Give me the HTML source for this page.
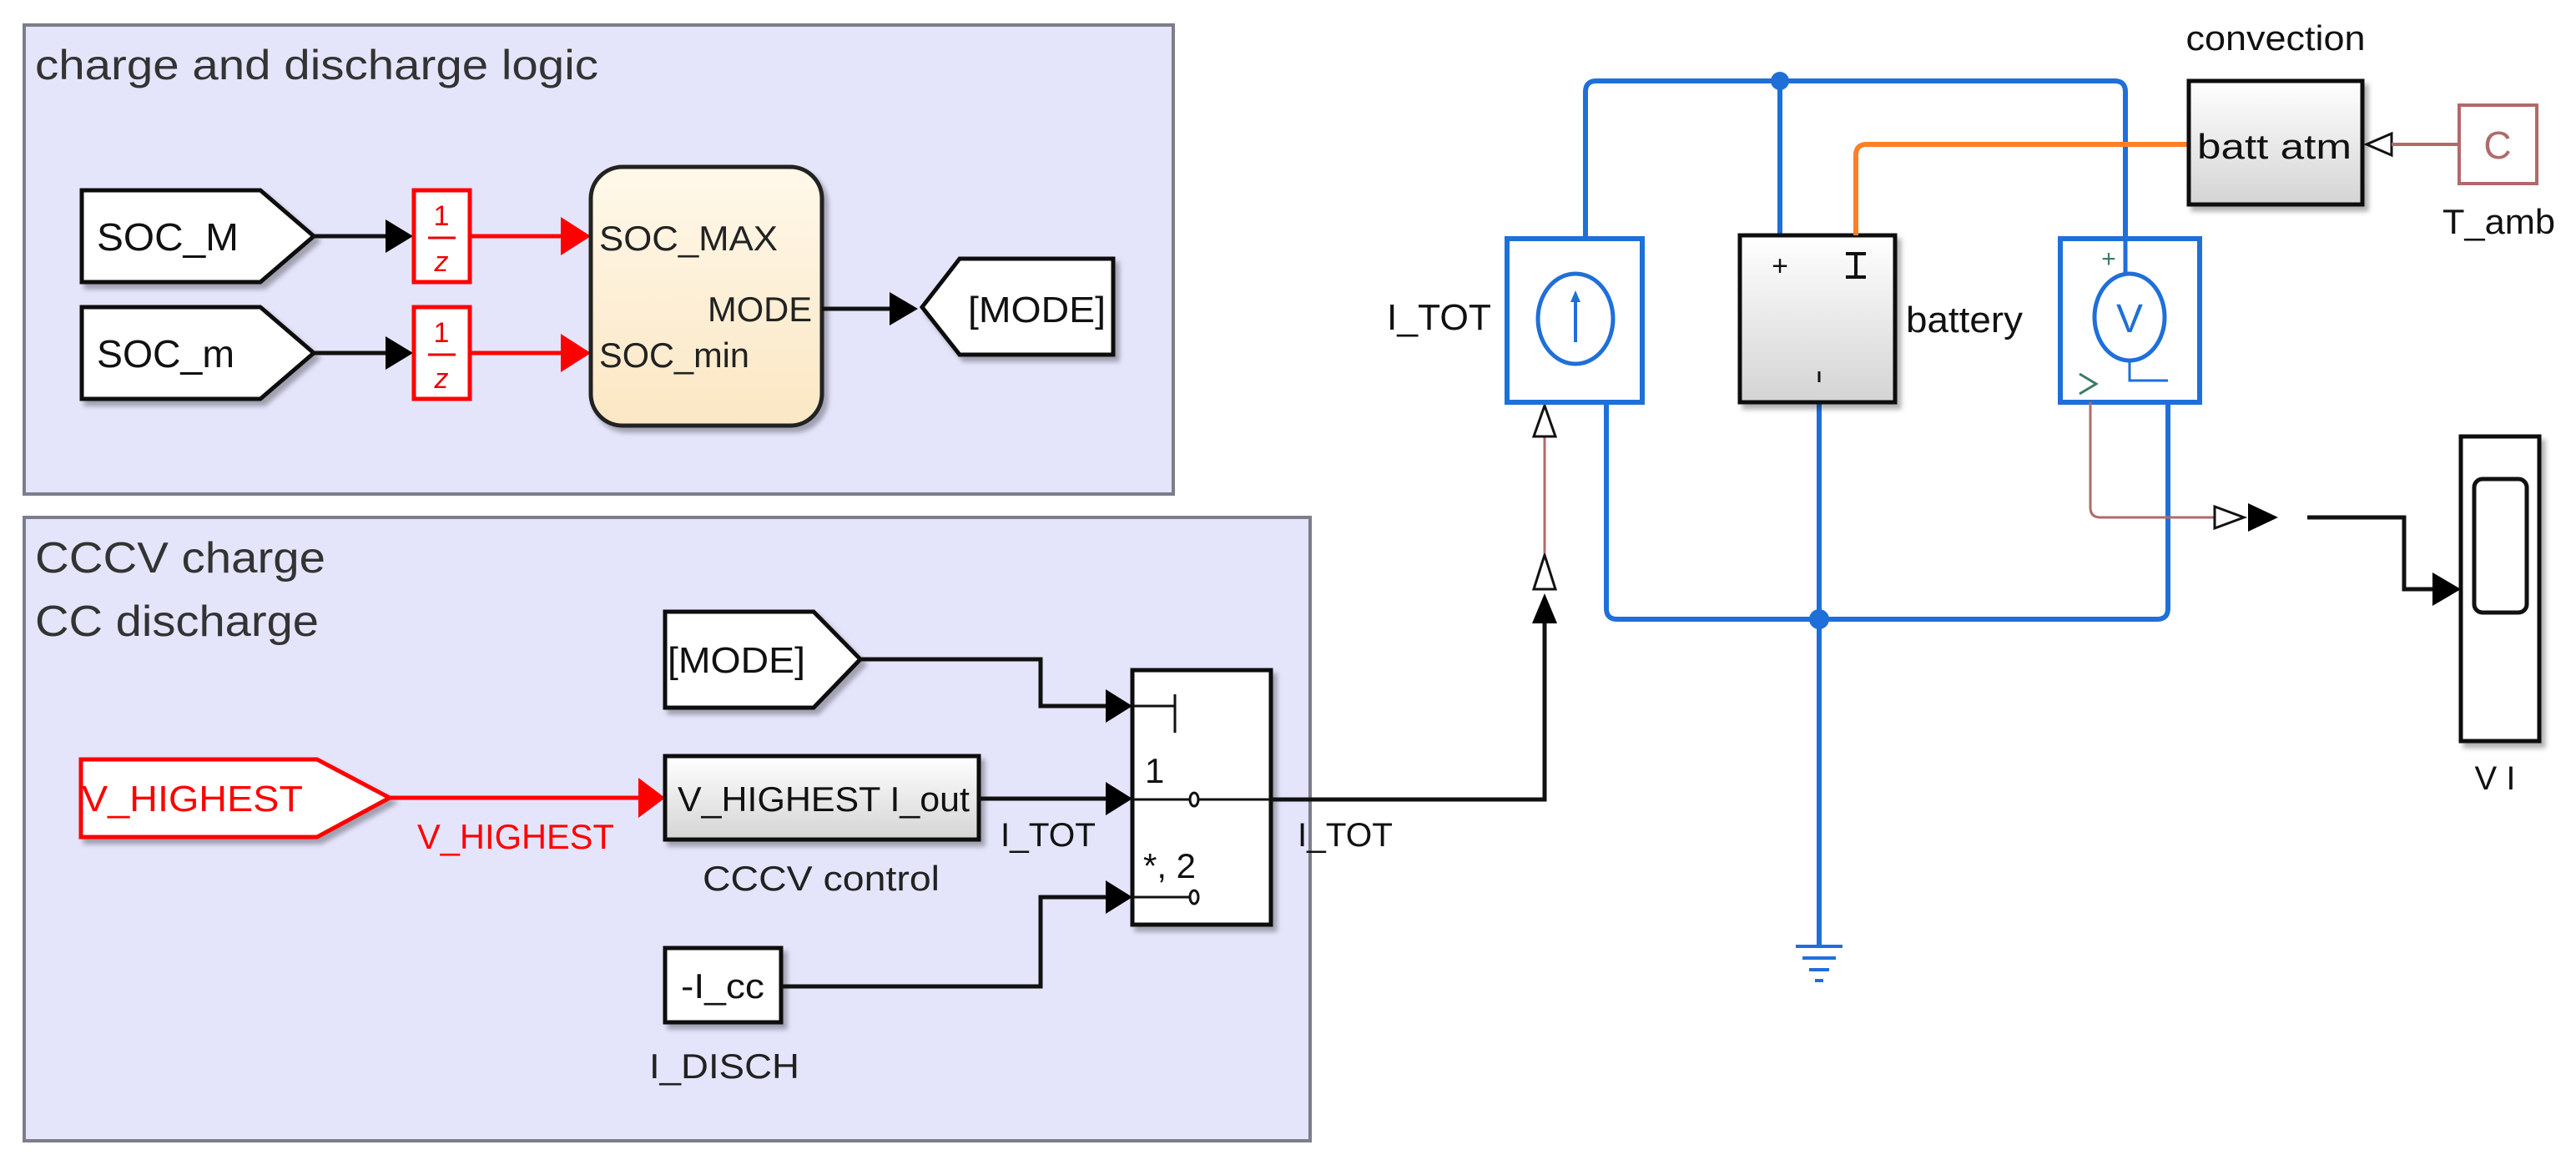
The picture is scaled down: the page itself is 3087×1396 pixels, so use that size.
<!DOCTYPE html>
<html><head><meta charset="utf-8"><style>html,body{margin:0;padding:0;background:#fff}svg{display:block}text{font-family:"Liberation Sans",Arial,sans-serif}</style></head>
<body>
<svg width="3087" height="1396" viewBox="0 0 3087 1396" xmlns="http://www.w3.org/2000/svg">
<defs>
<filter id="sh" x="-10%" y="-10%" width="130%" height="130%"><feDropShadow dx="5" dy="6" stdDeviation="3" flood-color="#000" flood-opacity="0.3"/></filter>
<linearGradient id="gg" x1="0" y1="0" x2="0" y2="1"><stop offset="0" stop-color="#fff"/><stop offset="1" stop-color="#d4d4d4"/></linearGradient>
<linearGradient id="cg" x1="0" y1="0" x2="0" y2="1"><stop offset="0" stop-color="#fff8ea"/><stop offset="1" stop-color="#fbe7c4"/></linearGradient>
</defs>

<rect x="29" y="30" width="1377" height="562" fill="#e4e4fb" stroke="#7d7d8c" stroke-width="4"/>
<text x="42" y="95" font-size="50" fill="#333" textLength="675" lengthAdjust="spacingAndGlyphs">charge and discharge logic</text>

<path d="M98,228 H312 L376,283 L312,338 H98 Z" fill="#fff" stroke="#111" stroke-width="5" filter="url(#sh)"/>
<text x="116" y="300" font-size="46" fill="#111" textLength="170" lengthAdjust="spacingAndGlyphs">SOC_M</text>
<path d="M98,368 H312 L376,423 L312,478 H98 Z" fill="#fff" stroke="#111" stroke-width="5" filter="url(#sh)"/>
<text x="116" y="440" font-size="46" fill="#111" textLength="165" lengthAdjust="spacingAndGlyphs">SOC_m</text>

<line x1="376" y1="283" x2="470" y2="283" stroke="#111" stroke-width="5"/>
<path d="M462,263 L495,283 L462,303 Z" fill="#000"/>
<line x1="376" y1="423" x2="470" y2="423" stroke="#111" stroke-width="5"/>
<path d="M462,403 L495,423 L462,443 Z" fill="#000"/>

<rect x="496" y="228" width="67" height="110" fill="#fff" stroke="#f00" stroke-width="5"/>
<text x="529" y="270" font-size="34" fill="#e00" text-anchor="middle">1</text>
<line x1="513" y1="285" x2="546" y2="285" stroke="#e00" stroke-width="3"/>
<text x="529" y="325" font-size="34" fill="#e00" text-anchor="middle" font-style="italic">z</text>
<rect x="496" y="368" width="67" height="110" fill="#fff" stroke="#f00" stroke-width="5"/>
<text x="529" y="410" font-size="34" fill="#e00" text-anchor="middle">1</text>
<line x1="513" y1="425" x2="546" y2="425" stroke="#e00" stroke-width="3"/>
<text x="529" y="465" font-size="34" fill="#e00" text-anchor="middle" font-style="italic">z</text>

<line x1="563" y1="283" x2="680" y2="283" stroke="#f00" stroke-width="5"/>
<path d="M672,260 L708,283 L672,306 Z" fill="#f00"/>
<line x1="563" y1="423" x2="680" y2="423" stroke="#f00" stroke-width="5"/>
<path d="M672,400 L708,423 L672,446 Z" fill="#f00"/>

<rect x="708" y="200" width="277" height="310" rx="38" fill="url(#cg)" stroke="#222" stroke-width="5" filter="url(#sh)"/>
<text x="718" y="300" font-size="42" fill="#222" textLength="214" lengthAdjust="spacingAndGlyphs">SOC_MAX</text>
<text x="718" y="440" font-size="42" fill="#222" textLength="180" lengthAdjust="spacingAndGlyphs">SOC_min</text>
<text x="848" y="385" font-size="42" fill="#222" textLength="125" lengthAdjust="spacingAndGlyphs">MODE</text>
<line x1="985" y1="370" x2="1072" y2="370" stroke="#111" stroke-width="5"/>
<path d="M1066,350 L1100,370 L1066,390 Z" fill="#000"/>
<path d="M1105,368 L1150,310 H1334 V425 H1150 Z" fill="#fff" stroke="#111" stroke-width="5" filter="url(#sh)"/>
<text x="1160" y="386" font-size="44" fill="#111" textLength="165" lengthAdjust="spacingAndGlyphs">[MODE]</text>

<rect x="29" y="620" width="1541" height="747" fill="#e4e4fb" stroke="#7d7d8c" stroke-width="4"/>
<text x="42" y="686" font-size="52" fill="#333" textLength="348" lengthAdjust="spacingAndGlyphs">CCCV charge</text>
<text x="42" y="762" font-size="52" fill="#333" textLength="340" lengthAdjust="spacingAndGlyphs">CC discharge</text>

<path d="M797,733 H975 L1031,790 L975,848 H797 Z" fill="#fff" stroke="#111" stroke-width="5" filter="url(#sh)"/>
<text x="800" y="806" font-size="44" fill="#111" textLength="165" lengthAdjust="spacingAndGlyphs">[MODE]</text>
<path d="M1031,790 H1247 V846 H1335" fill="none" stroke="#111" stroke-width="5"/>
<path d="M1325,826 L1357,846 L1325,866 Z" fill="#000"/>

<path d="M97,910 H380 L467,956 L380,1003 H97 Z" fill="#fff" stroke="#f00" stroke-width="5" filter="url(#sh)"/>
<text x="98" y="972" font-size="44" fill="#f00" textLength="265" lengthAdjust="spacingAndGlyphs">V_HIGHEST</text>
<line x1="467" y1="956" x2="775" y2="956" stroke="#f00" stroke-width="5"/>
<path d="M765,932 L797,956 L765,980 Z" fill="#f00"/>
<text x="500" y="1017" font-size="42" fill="#f00" textLength="236" lengthAdjust="spacingAndGlyphs">V_HIGHEST</text>

<rect x="797" y="906" width="376" height="100" fill="url(#gg)" stroke="#111" stroke-width="5" filter="url(#sh)"/>
<text x="812" y="972" font-size="42" fill="#111" textLength="350" lengthAdjust="spacingAndGlyphs">V_HIGHEST I_out</text>
<text x="842" y="1067" font-size="42" fill="#222" textLength="284" lengthAdjust="spacingAndGlyphs">CCCV control</text>
<line x1="1173" y1="957" x2="1335" y2="957" stroke="#111" stroke-width="5"/>
<path d="M1325,937 L1357,957 L1325,977 Z" fill="#000"/>
<text x="1199" y="1014" font-size="40" fill="#111" textLength="114" lengthAdjust="spacingAndGlyphs">I_TOT</text>

<rect x="797" y="1136" width="139" height="89" fill="#fff" stroke="#111" stroke-width="5" filter="url(#sh)"/>
<text x="866" y="1196" font-size="42" fill="#111" text-anchor="middle" textLength="100" lengthAdjust="spacingAndGlyphs">-I_cc</text>
<text x="778" y="1292" font-size="42" fill="#222" textLength="180" lengthAdjust="spacingAndGlyphs">I_DISCH</text>
<path d="M936,1182 H1247 V1075 H1335" fill="none" stroke="#111" stroke-width="5"/>
<path d="M1325,1055 L1357,1075 L1325,1095 Z" fill="#000"/>

<rect x="1357" y="803" width="166" height="305" fill="#fff" stroke="#111" stroke-width="5" filter="url(#sh)"/>
<line x1="1357" y1="846" x2="1408" y2="846" stroke="#111" stroke-width="3"/>
<line x1="1408" y1="832" x2="1408" y2="878" stroke="#111" stroke-width="3"/>
<text x="1372" y="938" font-size="42" fill="#111">1</text>
<line x1="1357" y1="958" x2="1425" y2="958" stroke="#111" stroke-width="3"/>
<ellipse cx="1431" cy="958" rx="5" ry="8" fill="none" stroke="#111" stroke-width="3"/>
<line x1="1437" y1="958" x2="1523" y2="958" stroke="#111" stroke-width="3"/>
<text x="1370" y="1052" font-size="42" fill="#111">*, 2</text>
<line x1="1357" y1="1075" x2="1425" y2="1075" stroke="#111" stroke-width="3"/>
<ellipse cx="1431" cy="1075" rx="5" ry="8" fill="none" stroke="#111" stroke-width="3"/>

<path d="M1523,958 H1851 V745" fill="none" stroke="#111" stroke-width="5"/>
<text x="1555" y="1014" font-size="40" fill="#111" textLength="114" lengthAdjust="spacingAndGlyphs">I_TOT</text>
<path d="M1836,747 L1851,711 L1866,747 Z" fill="#000"/>
<path d="M1838,706 L1851,665 L1864,706 Z" fill="#fff" stroke="#111" stroke-width="3"/>
<line x1="1851" y1="663" x2="1851" y2="524" stroke="#b06a6a" stroke-width="3"/>
<path d="M1838,523 L1851,486 L1864,523 Z" fill="#fff" stroke="#111" stroke-width="3"/>

<g fill="none" stroke="#1f6fd9" stroke-width="6">
<path d="M1900,286 V110 Q1900,97 1913,97 H2534 Q2547,97 2547,110 V335"/>
<line x1="2133" y1="97" x2="2133" y2="300"/>
<path d="M1925,482 V729 Q1925,742 1938,742 H2585 Q2598,742 2598,729 V460"/>
<line x1="2180" y1="482" x2="2180" y2="1132"/>
</g>
<circle cx="2133" cy="97" r="11" fill="#1f6fd9"/>
<circle cx="2180" cy="742" r="12" fill="#1f6fd9"/>
<g stroke="#1f6fd9" stroke-width="4">
<line x1="2152" y1="1134" x2="2208" y2="1134"/>
<line x1="2160" y1="1148" x2="2200" y2="1148"/>
<line x1="2168" y1="1162" x2="2192" y2="1162"/>
<line x1="2175" y1="1175" x2="2185" y2="1175"/>
</g>

<rect x="1806" y="286" width="162" height="196" fill="#fff" stroke="#1f6fd9" stroke-width="6"/>
<ellipse cx="1888" cy="382" rx="45" ry="54" fill="none" stroke="#1f6fd9" stroke-width="5"/>
<line x1="1888" y1="410" x2="1888" y2="360" stroke="#1f6fd9" stroke-width="4"/>
<path d="M1882,362 L1888,348 L1894,362 Z" fill="#1f6fd9"/>
<text x="1662" y="395" font-size="44" fill="#111" textLength="125" lengthAdjust="spacingAndGlyphs">I_TOT</text>

<rect x="2085" y="282" width="186" height="200" fill="url(#gg)" stroke="#111" stroke-width="5" filter="url(#sh)"/>
<text x="2133" y="330" font-size="34" fill="#111" text-anchor="middle">+</text>
<path d="M2212,304 H2236 M2224,304 V332 M2212,332 H2236" stroke="#111" stroke-width="4" fill="none"/>
<line x1="2180" y1="445" x2="2180" y2="458" stroke="#111" stroke-width="3"/>
<text x="2284" y="398" font-size="44" fill="#111" textLength="140" lengthAdjust="spacingAndGlyphs">battery</text>

<path d="M2224,282 V186 Q2224,173 2237,173 H2623" fill="none" stroke="#ff7f27" stroke-width="6"/>

<rect x="2469" y="286" width="167" height="196" fill="#fff" stroke="#1f6fd9" stroke-width="6"/>
<ellipse cx="2552" cy="380" rx="42" ry="52" fill="#fff" stroke="#1f6fd9" stroke-width="5"/>
<text x="2552" y="398" font-size="48" fill="#1f6fd9" text-anchor="middle" font-family="Liberation Serif">V</text>
<text x="2527" y="320" font-size="30" fill="#3a7a6a" text-anchor="middle">+</text>
<path d="M2552,432 V456 H2598" fill="none" stroke="#1f6fd9" stroke-width="3"/>
<path d="M2492,448 L2512,460 L2492,472" fill="none" stroke="#3a7a6a" stroke-width="3"/>
<line x1="2547" y1="286" x2="2547" y2="328" stroke="#1f6fd9" stroke-width="5"/>

<text x="2727" y="60" font-size="42" fill="#111" text-anchor="middle" textLength="215" lengthAdjust="spacingAndGlyphs">convection</text>
<rect x="2623" y="97" width="208" height="148" fill="url(#gg)" stroke="#111" stroke-width="5" filter="url(#sh)"/>
<text x="2633" y="190" font-size="42" fill="#111" textLength="185" lengthAdjust="spacingAndGlyphs">batt  atm</text>
<path d="M2866,160 L2836,173 L2866,186 Z" fill="#fff" stroke="#111" stroke-width="3"/>
<line x1="2866" y1="173" x2="2947" y2="173" stroke="#b06a6a" stroke-width="4"/>
<rect x="2947" y="126" width="93" height="94" fill="#fff" stroke="#b06a6a" stroke-width="4"/>
<text x="2993" y="190" font-size="46" fill="#b06a6a" text-anchor="middle">C</text>
<text x="2927" y="280" font-size="42" fill="#111" textLength="135" lengthAdjust="spacingAndGlyphs">T_amb</text>

<path d="M2505,482 V608 Q2505,620 2517,620 H2654" fill="none" stroke="#b06a6a" stroke-width="3"/>
<path d="M2654,607 L2689,620 L2654,633 Z" fill="#fff" stroke="#111" stroke-width="3"/>
<path d="M2694,603 L2730,620 L2694,637 Z" fill="#000"/>
<path d="M2765,620 H2881 V706 H2925" fill="none" stroke="#111" stroke-width="5"/>
<path d="M2915,686 L2949,706 L2915,726 Z" fill="#000"/>

<rect x="2949" y="523" width="94" height="365" fill="#fff" stroke="#111" stroke-width="5" filter="url(#sh)"/>
<rect x="2965" y="574" width="63" height="160" rx="10" fill="#fff" stroke="#111" stroke-width="5"/>
<text x="2990" y="946" font-size="40" fill="#111" text-anchor="middle">V I</text>
</svg>
</body></html>
